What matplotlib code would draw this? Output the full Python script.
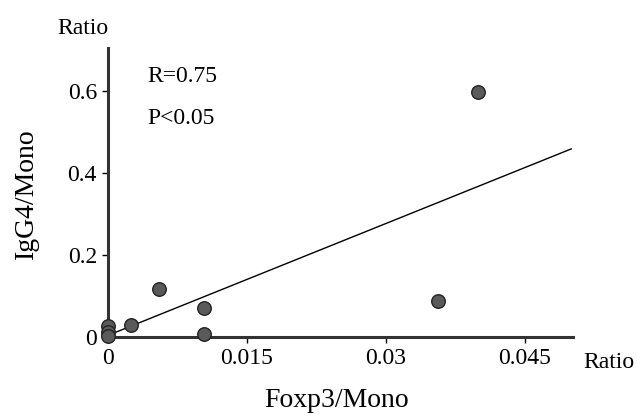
import numpy as np
import matplotlib
from matplotlib import pyplot as plt

matplotlib.rcParams['font.family'] = ['Liberation Serif', 'DejaVu Serif']

# scatter data
foxp3 = [0.0, 0.0, 0.0, 0.0025, 0.0055, 0.0104, 0.0104, 0.0356, 0.0399]
igg4 = [0.028, 0.013, 0.003, 0.029, 0.117, 0.071, 0.007, 0.088, 0.598]
# regression line
fit_x = [0.0, 0.050]
fit_y = [0.004, 0.459]

xticks = [0, 0.015, 0.03, 0.045]
xticklabels = ['0', '0.015', '0.03', '0.045']
yticks = [0, 0.2, 0.4, 0.6]
yticklabels = ['0', '0.2', '0.4', '0.6']

fig = plt.figure(figsize=(6.37, 4.15), dpi=100)
ax = fig.add_axes([0.1696, 0.188, 0.73, 0.696])

ax.plot(fit_x, fit_y, color='black', lw=1.0, clip_on=False)
ax.scatter(foxp3, igg4, s=95, color='#5a5a5a', edgecolor='#222222', lw=1.0,
           zorder=3, clip_on=False)

ax.set_xlim(0, 0.0502)
ax.set_ylim(0, 0.705)
ax.set_xticks(xticks)
ax.set_xticklabels(xticklabels)
ax.set_yticks(yticks)
ax.set_yticklabels(yticklabels)
ax.tick_params(direction='out', length=4, width=1, labelsize=17, pad=4)

for s in ['top', 'right']:
    ax.spines[s].set_visible(False)
for s in ['left', 'bottom']:
    ax.spines[s].set_linewidth(2.2)
    ax.spines[s].set_color('#333333')

ax.text(147/637, 1-76/415, 'R=0.75', transform=fig.transFigure, fontsize=17,
        ha='left', va='center')
ax.text(147/637, 1-118/415, 'P<0.05', transform=fig.transFigure, fontsize=17,
        ha='left', va='center')
fig.text(83/637, 1-28/415, 'Ratio', fontsize=17, ha='center', va='center')
fig.text(583/637, 1-362/415, 'Ratio', fontsize=17, ha='left', va='center')
fig.text(337/637, 1-400/415, 'Foxp3/Mono', fontsize=20, ha='center', va='center')
fig.text(26/637, 1-194/415, 'IgG4/Mono', fontsize=20, ha='center', va='center',
         rotation=90)

plt.savefig('out.png', dpi=100)
